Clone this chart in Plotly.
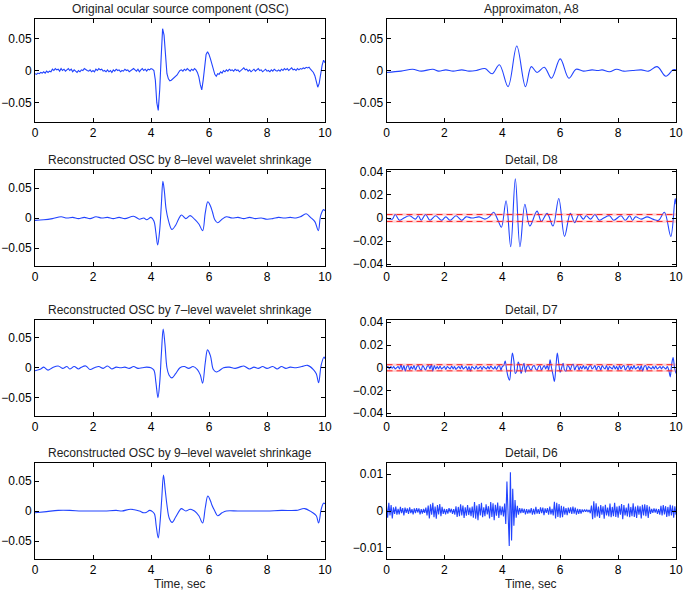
import numpy as np
import plotly.graph_objects as go

# ---------------- data ----------------
titles = [
    "Original ocular source component (OSC)", "Approximaton, A8",
    "Reconstructed OSC by 8\u2013level wavelet shrinkage", "Detail, D8",
    "Reconstructed OSC by 7\u2013level wavelet shrinkage", "Detail, D7",
    "Reconstructed OSC by 9\u2013level wavelet shrinkage", "Detail, D6",
]
x_title = "Time, sec"
x_ticks = [0, 2, 4, 6, 8, 10]
y_ticks_osc = [-0.05, 0, 0.05]
y_ticks_d87 = [-0.04, -0.02, 0, 0.02, 0.04]
y_ticks_d6 = [-0.01, 0, 0.01]

# original OSC, sampled every 0.05 s
osc_orig = [
    -0.005, -0.006, -0.004, -0.005, -0.003, -0.004, -0.002, -0.004, -0.001, -0.003, -0.001, -0.002, 0.002, 0.000, 0.003, 0.001, 0.002, -0.001, 0.003, 0.000,
    0.002, -0.001, 0.001, 0.003, 0.000, 0.002, -0.002, 0.001, -0.001, -0.003, 0.000, -0.002, 0.001, 0.000, 0.003, 0.001, 0.000, -0.001, 0.001, -0.002,
    0.000, -0.002, 0.002, 0.000, 0.003, 0.001, 0.002, -0.001, 0.000, -0.002, 0.001, -0.002, 0.000, -0.003, 0.001, -0.001, 0.002, 0.000, 0.001, -0.002,
    0.000, -0.001, 0.002, 0.000, 0.001, -0.002, 0.000, 0.002, 0.003, 0.001, -0.001, 0.002, -0.002, 0.001, 0.003, 0.000, 0.002, -0.001, 0.002, 0.001,
    0.003, 0.002, 0.000, -0.015, -0.050, -0.062, -0.030, 0.020, 0.065, 0.055, 0.020, -0.005, -0.013, -0.016, -0.015, -0.013, -0.011, -0.010, -0.007, -0.003,
    0.000, 0.001, -0.001, 0.002, 0.000, 0.003, 0.001, -0.001, 0.002, 0.000, 0.003, 0.001, -0.003, -0.010, -0.022, -0.030, -0.015, 0.010, 0.025, 0.029,
    0.025, 0.018, 0.010, 0.002, -0.006, -0.009, -0.005, -0.006, -0.002, -0.004, 0.000, -0.002, 0.001, -0.001, 0.002, 0.000, 0.001, -0.001, 0.002, 0.000,
    0.001, -0.002, 0.000, 0.002, 0.004, 0.001, 0.002, -0.001, 0.001, -0.002, 0.000, 0.002, -0.001, 0.001, 0.003, 0.000, 0.001, -0.002, 0.000, 0.002,
    -0.001, 0.000, -0.002, 0.001, -0.001, 0.002, 0.000, -0.001, 0.001, -0.001, 0.002, 0.000, 0.003, 0.001, 0.003, 0.000, 0.002, 0.004, 0.001, 0.002,
    0.000, 0.003, 0.001, 0.003, 0.002, 0.004, 0.003, 0.005, 0.004, 0.005, 0.002, 0.000, -0.003, -0.008, -0.018, -0.026, -0.020, -0.005, 0.008, 0.016,
    0.012,
]

rec8_t = [0.0, 0.3, 0.6, 0.9, 1.1, 1.3, 1.5, 1.7, 1.9, 2.1,
          2.3, 2.5, 2.7, 2.9, 3.1, 3.4, 3.6, 3.75, 3.85, 4.0,
          4.1, 4.17, 4.23, 4.3, 4.36, 4.41, 4.46, 4.52, 4.6, 4.72,
          4.85, 4.95, 5.05, 5.2, 5.35, 5.5, 5.65, 5.78, 5.87, 5.96,
          6.05, 6.12, 6.2, 6.3, 6.45, 6.6, 6.8, 7.0, 7.2, 7.4,
          7.6, 7.8, 8.0, 8.2, 8.4, 8.6, 8.8, 9.0, 9.15, 9.35,
          9.5, 9.65, 9.77, 9.85, 9.95, 10.0]
rec8_v = [-0.004, -0.003, -0.001, 0.002, 0.000, 0.001, -0.001, 0.001, -0.001, 0.002,
          0.000, 0.001, -0.001, 0.001, -0.001, 0.003, -0.002, 0.000, -0.003, 0.001,
          -0.005, -0.025, -0.045, -0.020, 0.025, 0.061, 0.045, 0.015, -0.004, -0.019,
          -0.012, -0.002, 0.005, -0.001, 0.004, -0.002, -0.010, -0.021, 0.008, 0.027,
          0.020, 0.010, -0.003, -0.008, -0.002, 0.002, 0.000, 0.001, -0.001, 0.001,
          -0.001, 0.000, -0.002, -0.001, 0.001, 0.000, 0.001, 0.000, 0.002, 0.007,
          0.001, -0.006, -0.021, 0.004, 0.014, 0.012]

rec7_t = [0, 0.2, 0.3, 0.45, 0.6, 0.8, 0.95, 1.1, 1.2, 1.35,
          1.5, 1.6, 1.75, 1.9, 2.05, 2.2, 2.35, 2.5, 2.65, 2.8,
          2.95, 3.1, 3.25, 3.4, 3.55, 3.7, 3.85, 4.0, 4.1, 4.17,
          4.24, 4.3, 4.36, 4.42, 4.48, 4.55, 4.62, 4.72, 4.85, 5.0,
          5.15, 5.3, 5.45, 5.6, 5.7, 5.78, 5.87, 5.95, 6.05, 6.15,
          6.25, 6.35, 6.5, 6.7, 6.9, 7.05, 7.2, 7.4, 7.55, 7.7,
          7.85, 8.0, 8.2, 8.35, 8.5, 8.65, 8.8, 9.0, 9.2, 9.4,
          9.6, 9.7, 9.78, 9.87, 9.97, 10.0]
rec7_v = [-0.005, -0.002, 0.001, -0.004, 0.000, 0.003, -0.001, 0.002, -0.002, 0.002,
          -0.002, 0.001, 0.003, -0.003, 0.000, 0.002, -0.001, 0.003, -0.002, 0.001,
          0.000, 0.001, -0.001, 0.002, -0.001, 0.000, 0.001, 0.000, -0.004, -0.025,
          -0.050, -0.025, 0.025, 0.065, 0.040, 0.000, -0.012, -0.017, -0.010, 0.000,
          0.002, -0.001, 0.002, -0.003, -0.012, -0.026, 0.008, 0.030, 0.020, -0.003,
          -0.007, -0.005, 0.000, 0.001, -0.001, 0.001, 0.003, -0.002, 0.001, -0.001,
          0.002, -0.001, 0.002, -0.002, 0.002, -0.001, 0.001, 0.000, 0.002, 0.004,
          -0.003, -0.010, -0.025, 0.005, 0.018, 0.015]

rec9_t = [0.0, 0.4, 0.8, 1.2, 1.6, 2.0, 2.4, 2.8, 3.0, 3.3,
          3.6, 3.75, 3.85, 3.95, 4.05, 4.12, 4.18, 4.25, 4.31, 4.37,
          4.43, 4.49, 4.55, 4.63, 4.73, 4.85, 5.0, 5.05, 5.2, 5.35,
          5.5, 5.65, 5.78, 5.87, 5.96, 6.05, 6.1, 6.2, 6.3, 6.45,
          6.6, 7.0, 7.5, 8.0, 8.5, 9.0, 9.3, 9.55, 9.7, 9.78,
          9.87, 9.95, 10.0]
rec9_v = [-0.003, -0.001, 0.001, 0.001, 0.000, 0.000, 0.000, 0.001, 0.000, 0.003,
          0.000, -0.003, -0.002, 0.001, -0.001, -0.005, -0.025, -0.045, -0.020, 0.020,
          0.060, 0.035, 0.010, -0.012, -0.019, -0.010, 0.002, 0.004, 0.000, 0.003,
          0.000, -0.008, -0.020, 0.005, 0.025, 0.017, 0.010, 0.000, -0.008, -0.003,
          0.000, 0.000, 0.000, 0.000, 0.001, 0.001, 0.004, -0.002, -0.008, -0.020,
          0.003, 0.013, 0.012]

a8_t = [0.0, 0.5, 0.9, 1.2, 1.6, 1.8, 2.05, 2.3, 2.6, 2.85,
        3.1, 3.4, 3.65, 3.9, 4.2, 4.5, 4.8, 5.0, 5.2, 5.45,
        5.7, 6.0, 6.3, 6.55, 6.8, 7.1, 7.3, 7.45, 7.7, 7.95,
        8.2, 8.5, 8.8, 9.05, 9.35, 9.65, 9.9, 10.0]
a8_v = [-0.003, -0.001, 0.002, -0.001, 0.002, -0.001, 0.001, -0.001, 0.001, -0.001,
        0.000, 0.003, -0.005, 0.009, -0.025, 0.038, -0.025, 0.006, -0.003, 0.005,
        -0.012, 0.018, -0.012, 0.002, -0.001, 0.001, 0.000, 0.001, -0.002, 0.002,
        -0.001, 0.000, 0.001, -0.001, 0.006, -0.009, 0.001, 0.001]

d8_t = [0.0, 0.2, 0.3, 0.45, 0.6, 0.8, 1.0, 1.1, 1.2, 1.35,
        1.5, 1.7, 1.9, 2.05, 2.2, 2.4, 2.6, 2.75, 2.95, 3.2,
        3.4, 3.55, 3.7, 3.85, 3.97, 4.13, 4.29, 4.45, 4.61, 4.78,
        4.95, 5.2, 5.35, 5.55, 5.75, 5.95, 6.15, 6.35, 6.5, 6.65,
        6.8, 6.9, 7.05, 7.2, 7.35, 7.5, 7.7, 7.85, 8.1, 8.25,
        8.4, 8.5, 8.6, 8.8, 9.0, 9.2, 9.4, 9.6, 9.82, 9.97,
        10.0]
d8_v = [0.000, -0.001, 0.003, -0.002, 0.000, 0.002, -0.001, 0.002, -0.002, 0.003,
        -0.002, 0.002, -0.002, 0.001, -0.002, 0.002, -0.002, 0.001, 0.000, 0.001,
        -0.001, 0.001, 0.005, -0.002, -0.008, 0.015, -0.025, 0.034, -0.025, 0.012,
        -0.007, 0.006, -0.003, 0.004, -0.007, 0.017, -0.016, 0.004, -0.004, 0.003,
        -0.001, 0.002, -0.001, 0.003, -0.002, 0.000, 0.002, -0.002, 0.002, -0.002,
        0.002, -0.002, 0.001, -0.001, 0.001, -0.001, -0.002, 0.005, -0.016, 0.017,
        0.012]
d8_threshold = 0.003

# D7, sampled every 0.05 s
d7_v = [
    0.000, 0.001, -0.001, 0.001, -0.0005, 0.0010, -0.001, 0.000, 0.001, -0.001, 0.003, -0.002, 0.002, -0.003, 0.001, 0.002, -0.002, 0.001, -0.001, 0.002,
    -0.002, 0.001, 0.002, -0.001, -0.002, 0.002, 0.000, -0.002, 0.001, 0.002, -0.001, 0.003, -0.003, 0.002, -0.001, 0.001, -0.001, 0.0015, -0.001, 0.000,
    0.001, -0.0015, 0.001, 0.000, -0.001, 0.0015, -0.001, 0.001, -0.0015, 0.000, 0.001, -0.001, 0.002, -0.001, 0.000, 0.001, -0.002, 0.001, -0.003, 0.001,
    0.000, -0.001, 0.0015, -0.001, 0.000, 0.001, -0.0015, 0.001, 0.000, -0.001, 0.001, -0.001, 0.0015, 0.000, -0.001, 0.001, -0.0015, 0.001, 0.002, -0.002,
    0.001, 0.002, 0.006, -0.002, -0.008, -0.011, 0.002, 0.013, 0.006, -0.005, -0.003, 0.005, 0.002, -0.005, 0.000, 0.004, -0.004, 0.001, 0.002, -0.001,
    -0.002, 0.001, 0.002, -0.001, -0.002, 0.001, 0.002, -0.002, 0.000, 0.002, -0.001, 0.002, -0.002, 0.007, 0.000, -0.006, -0.012, 0.000, 0.013, 0.004,
    -0.004, 0.000, 0.004, -0.002, -0.003, 0.002, 0.001, -0.002, 0.002, 0.003, -0.002, 0.001, 0.002, -0.002, 0.001, -0.001, 0.002, -0.001, 0.001, -0.002,
    0.001, 0.002, -0.001, 0.000, 0.002, -0.002, 0.001, 0.001, -0.002, 0.002, 0.000, -0.001, 0.002, -0.002, 0.001, 0.000, -0.001, 0.002, -0.001, 0.001,
    -0.002, 0.002, -0.001, 0.001, 0.002, -0.002, 0.000, 0.002, -0.002, 0.001, -0.001, 0.002, -0.001, 0.000, 0.001, -0.002, 0.002, -0.003, 0.001, 0.002,
    -0.002, 0.001, 0.000, -0.001, 0.001, -0.001, 0.0015, -0.001, 0.000, 0.001, -0.001, 0.001, 0.000, -0.001, 0.001, -0.002, -0.008, 0.003, 0.009, 0.000,
    -0.005,
]
d7_threshold = 0.0027

# D6, sampled every 0.04 s
d6_v = [
    0.0015, -0.0018, 0.0022, -0.0012, 0.0016, -0.0020, 0.0010, -0.0008, 0.0012, -0.0010, 0.0006, -0.0009, 0.0011, -0.0006, 0.0008, -0.0012, 0.0009, -0.0005, 0.0007, -0.0008, 0.0010, -0.0006, 0.0005, -0.0009, 0.0007,
    -0.0006, 0.0008, -0.0004, 0.0007, -0.0009, 0.0005, -0.0007, 0.0006, -0.0005, 0.0009, -0.0012, 0.0015, -0.0020, 0.0018, -0.0010, 0.0022, -0.0017, 0.0012, -0.0021, 0.0016, -0.0009, 0.0019, -0.0014, 0.0011, -0.0008,
    0.0006, -0.0009, 0.0005, -0.0007, 0.0008, -0.0004, 0.0006, -0.0008, 0.0005, -0.0010, 0.0013, -0.0016, 0.0011, -0.0014, 0.0018, -0.0012, 0.0015, -0.0019, 0.0010, -0.0013, 0.0016, -0.0011, 0.0009, -0.0014, 0.0012,
    -0.0018, 0.0024, -0.0021, 0.0015, -0.0025, 0.0019, -0.0012, 0.0022, -0.0017, 0.0010, -0.0014, 0.0018, -0.0009, 0.0013, -0.0020, 0.0024, -0.0016, 0.0021, -0.0025, 0.0017, -0.0013, 0.0023, -0.0019, 0.0014, -0.0011,
    0.0012, -0.0015, 0.0020, -0.0035, 0.0080, -0.0030, -0.0095, 0.0105, -0.0080, 0.0060, -0.0040, 0.0030, -0.0018, 0.0014, -0.0010, 0.0008, -0.0006, 0.0007, -0.0005, 0.0006, -0.0009, 0.0005, -0.0007, 0.0004, -0.0006,
    0.0008, -0.0010, 0.0006, -0.0009, 0.0011, -0.0007, 0.0005, -0.0008, 0.0010, -0.0006, 0.0009, -0.0011, 0.0007, -0.0005, 0.0008, -0.0010, 0.0012, -0.0009, 0.0006, -0.0012, 0.0025, -0.0020, 0.0022, -0.0016, 0.0019,
    -0.0018, 0.0014, -0.0017, 0.0012, -0.0010, 0.0008, -0.0011, 0.0009, -0.0006, 0.0010, -0.0008, 0.0012, -0.0007, 0.0009, -0.0010, 0.0006, -0.0008, 0.0005, -0.0007, 0.0004, -0.0003, 0.0004, -0.0002, 0.0003, -0.0002,
    0.0003, -0.0006, 0.0015, -0.0022, 0.0026, -0.0018, 0.0021, -0.0015, 0.0012, -0.0019, 0.0016, -0.0010, 0.0013, -0.0021, 0.0017, -0.0012, 0.0009, -0.0015, 0.0020, -0.0017, 0.0011, -0.0014, 0.0022, -0.0016, 0.0012,
    -0.0018, 0.0014, -0.0010, 0.0019, -0.0022, 0.0016, -0.0012, 0.0009, -0.0015, 0.0020, -0.0017, 0.0011, -0.0014, 0.0021, -0.0016, 0.0012, -0.0019, 0.0015, -0.0010, 0.0013, -0.0020, 0.0017, -0.0012, 0.0018, -0.0014,
    0.0016, -0.0019, 0.0012, -0.0008, 0.0006, -0.0005, 0.0007, -0.0004, 0.0006, -0.0008, 0.0005, -0.0010, 0.0014, -0.0012, 0.0016, -0.0009, 0.0013, -0.0016, 0.0011, -0.0014, 0.0017, -0.0012, 0.0015, -0.0018, 0.0013,
    -0.0010,
]

t_osc = np.linspace(0, 10, len(osc_orig))
t_d7 = np.linspace(0, 10, len(d7_v))
t_d6 = np.linspace(0, 10, len(d6_v))

# ---------------- figure ----------------
W, H = 685, 593
BLUE = "#2244ff"
FONT = "Liberation Sans, Arial, Helvetica, sans-serif"

col_dom = [(35 / W, 325 / W), (386.5 / W, 676 / W)]
row_px = [(19, 122), (170, 266), (320, 415.5), (463, 559)]
row_dom = [(1 - b / H, 1 - t / H) for t, b in row_px]

panels = [
    # (row, col, x, y, shape, yrange, yticks, threshold)
    (0, 0, t_osc, osc_orig, "linear", [-0.08, 0.08], y_ticks_osc, None),
    (0, 1, a8_t, a8_v, "spline", [-0.08, 0.08], y_ticks_osc, None),
    (1, 0, rec8_t, rec8_v, "spline", [-0.08, 0.08], y_ticks_osc, None),
    (1, 1, d8_t, d8_v, "spline", [-0.0417, 0.0417], y_ticks_d87, d8_threshold),
    (2, 0, rec7_t, rec7_v, "spline", [-0.08, 0.08], y_ticks_osc, None),
    (2, 1, t_d7, d7_v, "spline", [-0.042, 0.042], y_ticks_d87, d7_threshold),
    (3, 0, rec9_t, rec9_v, "spline", [-0.08, 0.08], y_ticks_osc, None),
    (3, 1, t_d6, d6_v, "linear", [-0.013, 0.013], y_ticks_d6, None),
]

fig = go.Figure()
layout = dict(
    width=W, height=H, margin=dict(l=0, r=0, t=0, b=0, pad=0),
    paper_bgcolor="white", plot_bgcolor="white", showlegend=False,
    font=dict(family=FONT, size=12, color="black"),
)
annotations = []

for k, (r, c, xs, ys, shape, yr, yt, thr) in enumerate(panels):
    i = k + 1
    xa = "x" if i == 1 else f"x{i}"
    ya = "y" if i == 1 else f"y{i}"
    fig.add_trace(go.Scatter(x=list(xs), y=ys, mode="lines",
                             line=dict(color=BLUE, width=1.1, shape=shape),
                             xaxis=xa, yaxis=ya, hoverinfo="skip"))
    if thr is not None:
        for s in (thr, -thr):
            fig.add_trace(go.Scatter(x=[0, 10], y=[s, s], mode="lines",
                                     line=dict(color="rgba(255,80,80,0.25)", width=2.5),
                                     xaxis=xa, yaxis=ya, hoverinfo="skip"))
            fig.add_trace(go.Scatter(x=[0, 10], y=[s, s], mode="lines",
                                     line=dict(color="#ff2020", width=1, dash="6px,4px"),
                                     xaxis=xa, yaxis=ya, hoverinfo="skip"))
    axis_common = dict(showline=True, linecolor="black", linewidth=1, mirror="ticks",
                       ticks="inside", ticklen=4, tickcolor="black", showgrid=False,
                       zeroline=False, automargin=False,
                       tickfont=dict(family=FONT, size=12, color="black"))
    layout["xaxis" if i == 1 else f"xaxis{i}"] = dict(
        domain=list(col_dom[c]), anchor=ya, range=[0, 10],
        tickmode="array", tickvals=x_ticks, ticktext=[str(v) for v in x_ticks],
        **axis_common)
    layout["yaxis" if i == 1 else f"yaxis{i}"] = dict(
        domain=list(row_dom[r]), anchor=xa, range=yr,
        tickmode="array", tickvals=yt,
        ticktext=[("\u22120" + f"{abs(v):g}"[1:]) if v < 0 else f"{v:g}" for v in yt],
        **axis_common)
    annotations.append(dict(
        text=titles[k], xref="paper", yref="paper",
        x=(col_dom[c][0] + col_dom[c][1]) / 2, y=row_dom[r][1],
        xanchor="center", yanchor="bottom", yshift=1, showarrow=False,
        font=dict(family=FONT, size=12, color="#222222")))

for c in range(2):
    annotations.append(dict(
        text=x_title, xref="paper", yref="paper",
        x=(col_dom[c][0] + col_dom[c][1]) / 2, y=1 - 584 / H,
        xanchor="center", yanchor="middle", showarrow=False,
        font=dict(family=FONT, size=12, color="#222222")))

layout["annotations"] = annotations
fig.update_layout(**layout)
fig.write_html(
    "out.html",
    config={"displayModeBar": False, "staticPlot": True},
    post_script="document.body.style.margin='0';document.body.style.padding='0';"
                "document.body.style.overflow='hidden';",
)
